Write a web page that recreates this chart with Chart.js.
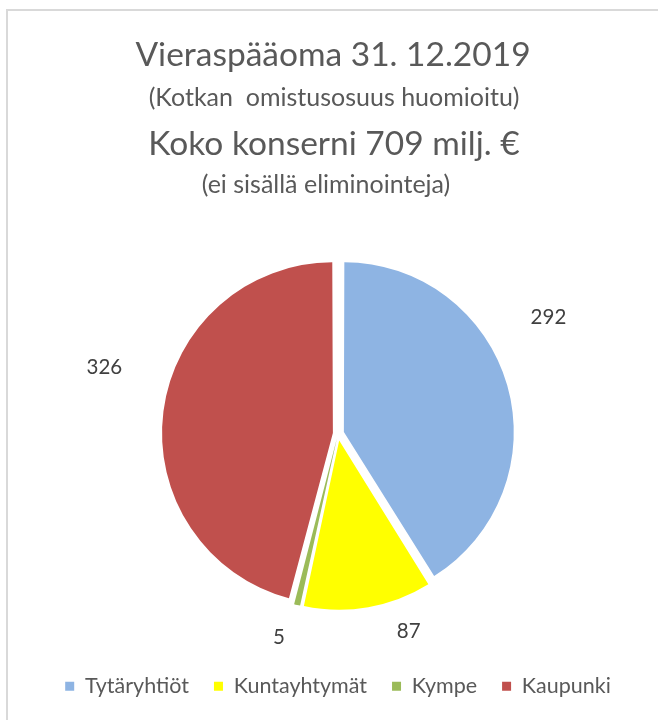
<!DOCTYPE html>
<html>
<head>
<meta charset="utf-8">
<script src="https://cdn.jsdelivr.net/npm/chart.js@4.4.1/dist/chart.umd.min.js"></script>
<style>
    html, body { margin: 0; padding: 0; background: #fff; }
    #wrap { width: 658px; height: 720px; position: relative; }
</style>
</head>
<body>
<div id="wrap"><canvas id="chart" width="658" height="720"></canvas></div>
<script>
const categories = ["Tytäryhtiöt", "Kuntayhtymät", "Kympe", "Kaupunki"]
const values = [292, 87, 5, 326]
const sliceColors = ["#8EB4E3", "#FFFF00", "#9BBB59", "#C0504D"]
const titleLines = [
    "Vieraspääoma 31. 12.2019",
    "(Kotkan  omistusosuus huomioitu)",
    "Koko konserni 709 milj. €",
    "(ei sisällä eliminointeja)",
]

// title layout: font size, baseline y, centre x
const titleLayout = [
    { size: 33.5, y: 66, x: 333 },
    { size: 25, y: 106, x: 334 },
    { size: 33.5, y: 155, x: 334 },
    { size: 25, y: 193, x: 326 },
]
// label placement relative to slice mid angle (degrees) and distance from centre
const labelShift = [-13.2, -9.9, 2.8, 8.6]
const labelDist = [241, 209, 211, 243]

const FONT = "Lato, 'Open Sans', sans-serif"
const EXPLODE = 9

const total = values.reduce((a, b) => a + b, 0)

const framePlugin = {
    id: "frame",
    beforeDraw(chart) {
        const ctx = chart.ctx
        ctx.save()
        ctx.strokeStyle = "#d9d9d9"
        ctx.lineWidth = 2
        ctx.beginPath()
        ctx.moveTo(7, 720)
        ctx.lineTo(7, 10)
        ctx.lineTo(658, 10)
        ctx.stroke()
        ctx.restore()
    },
}

const titlePlugin = {
    id: "titleLines",
    afterDraw(chart) {
        const ctx = chart.ctx
        ctx.save()
        ctx.fillStyle = "#595959"
        ctx.textAlign = "center"
        ctx.textBaseline = "alphabetic"
        titleLines.forEach((line, i) => {
            const l = titleLayout[i]
            ctx.font = `${l.size}px ${FONT}`
            ctx.fillText(line, l.x, l.y)
        })
        ctx.restore()
    },
}

const valueLabelPlugin = {
    id: "valueLabels",
    afterDatasetsDraw(chart) {
        const ctx = chart.ctx
        const meta = chart.getDatasetMeta(0)
        const size = 20.5
        ctx.save()
        ctx.fillStyle = "#404040"
        ctx.font = `${size}px ${FONT}`
        ctx.textAlign = "center"
        ctx.textBaseline = "alphabetic"
        meta.data.forEach((arc, i) => {
            const mid = (arc.startAngle + arc.endAngle) / 2 + (labelShift[i] * Math.PI) / 180
            const x = arc.x + Math.cos(mid) * labelDist[i]
            const y = arc.y + Math.sin(mid) * labelDist[i]
            ctx.fillText(String(values[i]), x, y + size * 0.36)
        })
        ctx.restore()
    },
}

const ctx = document.getElementById("chart").getContext("2d")
const pieChart = new Chart(ctx, {
    type: "pie",
    data: {
        labels: categories,
        datasets: [
            {
                data: values,
                backgroundColor: sliceColors,
                borderWidth: 0,
                radius: 167,
                // chart.js moves a slice by offset/4 * (2 - sin(angle)), undo that
                offset: (c) => {
                    const angle = (values[c.dataIndex] / total) * Math.PI * 2
                    return (EXPLODE * 4) / (2 - Math.sin(Math.min(Math.PI, angle)))
                },
            },
        ],
    },
    options: {
        responsive: false,
        animation: false,
        layout: {
            padding: { top: 217, bottom: 13, left: 18, right: 0 },
        },
        plugins: {
            tooltip: { enabled: false },
            title: { display: false },
            legend: {
                position: "bottom",
                labels: {
                    boxWidth: 9,
                    boxHeight: 9,
                    padding: 25,
                    color: "#595959",
                    font: { family: FONT, size: 21.5 },
                },
            },
        },
    },
    plugins: [framePlugin, titlePlugin, valueLabelPlugin],
})
</script>
</body>
</html>
